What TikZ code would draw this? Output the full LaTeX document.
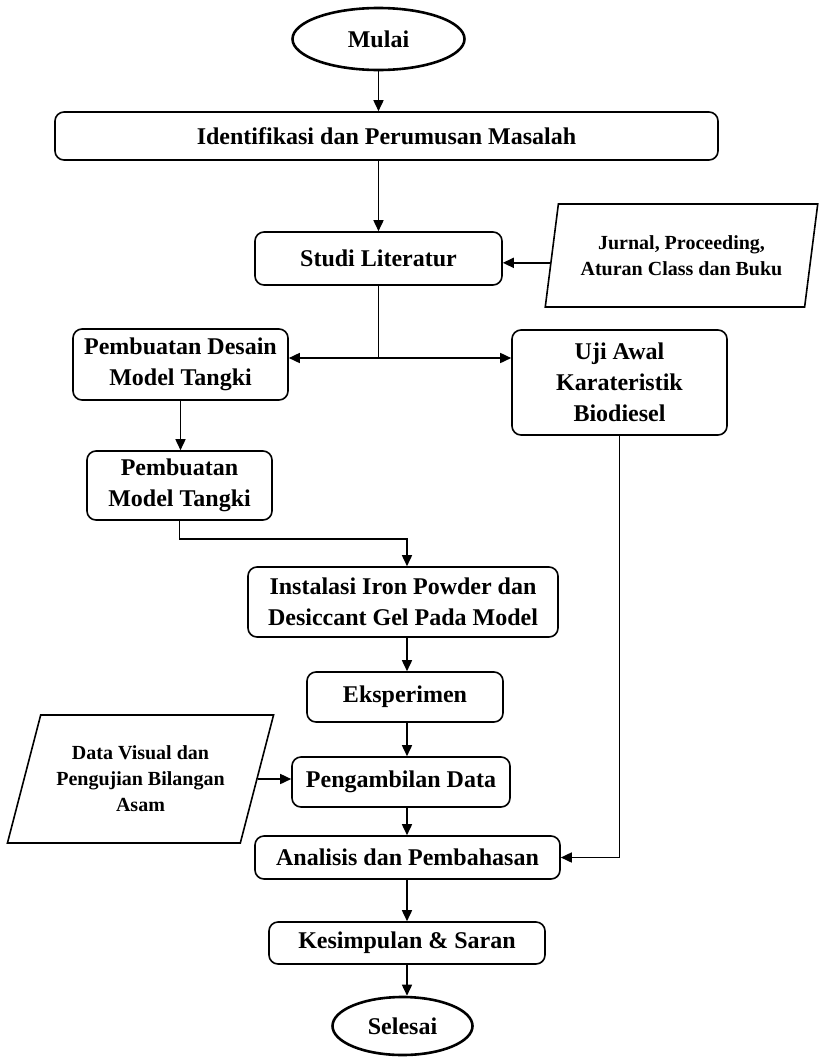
\documentclass[tikz,border=0pt]{standalone}
\usepackage{fontspec}
\setmainfont{Liberation Serif}
\usetikzlibrary{shapes.geometric,arrows.meta,calc}
\begin{document}
\begin{tikzpicture}[x=1pt,y=-1pt,
  box/.style={draw,line width=1.6pt,rounded corners=9pt,align=center,inner sep=0pt,
    font=\fontsize{24}{31}\selectfont\bfseries},
  term/.style={draw,ellipse,line width=2.6pt,inner sep=0pt,font=\fontsize{24}{31}\selectfont\bfseries},
  io/.style={draw,trapezium,trapezium stretches=true,line width=1.6pt,align=center,inner sep=0pt,
    font=\fontsize{20}{26}\selectfont\bfseries},
  arr/.style={line width=1.6pt,-{Triangle[length=11pt,width=10pt]}},
  ln/.style={line width=1.6pt}]
\useasboundingbox (0,0) rectangle (819,1058);
\node[term,minimum width=172pt,minimum height=62pt] (mulai) at (378.5,39) {Mulai};
\node[box,minimum width=663pt,minimum height=48pt] (ident) at (386.5,136) {Identifikasi dan Perumusan Masalah};
\node[box,minimum width=247pt,minimum height=53pt] (studi) at (378.5,258.5) {Studi Literatur};
\node[io,trapezium left angle=75,trapezium right angle=105,minimum width=273pt,minimum height=103pt] (jurnal) at (681.5,255.5) {Jurnal, Proceeding,\\Aturan Class dan Buku};
\node[box,minimum width=215pt,minimum height=71pt] (desain) at (180.5,364.5) {Pembuatan Desain\\Model Tangki};
\node[box,minimum width=215pt,minimum height=105pt] (uji) at (619.5,382.5) {Uji Awal\\Karateristik\\Biodiesel};
\node[box,minimum width=185pt,minimum height=69pt] (model) at (179.5,485.5) {Pembuatan\\Model Tangki};
\node[box,minimum width=310pt,minimum height=70pt] (instal) at (403,602) {Instalasi Iron Powder dan\\Desiccant Gel Pada Model};
\node[box,minimum width=196pt,minimum height=50pt] (eksp) at (405,697) {Eksperimen};
\node[box,minimum width=218pt,minimum height=50pt] (ambil) at (401,782) {Pengambilan Data};
\node[io,trapezium left angle=67,trapezium right angle=113,minimum width=267pt,minimum height=128pt] (datavis) at (140.5,779) {Data Visual dan\\Pengujian Bilangan\\Asam};
\node[box,minimum width=305pt,minimum height=43pt] (analisis) at (407.5,857.5) {Analisis dan Pembahasan};
\node[box,minimum width=276pt,minimum height=42pt] (kesimpulan) at (407,943) {Kesimpulan \& Saran};
\node[term,minimum width=140pt,minimum height=58pt] (selesai) at (402.5,1026) {Selesai};
\coordinate (axis) at (407,0);
\coordinate (split) at (378.5,358);
\coordinate (jin) at ($(jurnal.bottom left corner)!0.43!(jurnal.top left corner)$);
\draw[arr] (mulai.south) -- (mulai.south |- ident.north);
\draw[arr] (studi.north |- ident.south) -- (studi.north);
\draw[arr] (jin) -- (studi.east |- jin);
\draw[ln] (studi.south) -- (split);
\draw[arr] (split) -- (split -| desain.east);
\draw[arr] (split) -- (split -| uji.west);
\draw[arr] (desain.south) -- (desain.south |- model.north);
\draw[arr] (model.south) -- ++(0,18) -| (instal.north -| axis);
\draw[arr] (instal.south -| axis) -- (eksp.north -| axis);
\draw[arr] (eksp.south -| axis) -- (ambil.north -| axis);
\draw[arr] (ambil.south -| axis) -- (analisis.north -| axis);
\draw[arr] (analisis.south -| axis) -- (kesimpulan.north -| axis);
\draw[arr] (kesimpulan.south -| axis) -- (selesai.north -| axis);
\draw[arr] (datavis.east) -- (ambil.west |- datavis.east);
\draw[arr] (uji.south) -- (uji.south |- analisis.east) -- (analisis.east);
\end{tikzpicture}
\end{document}
